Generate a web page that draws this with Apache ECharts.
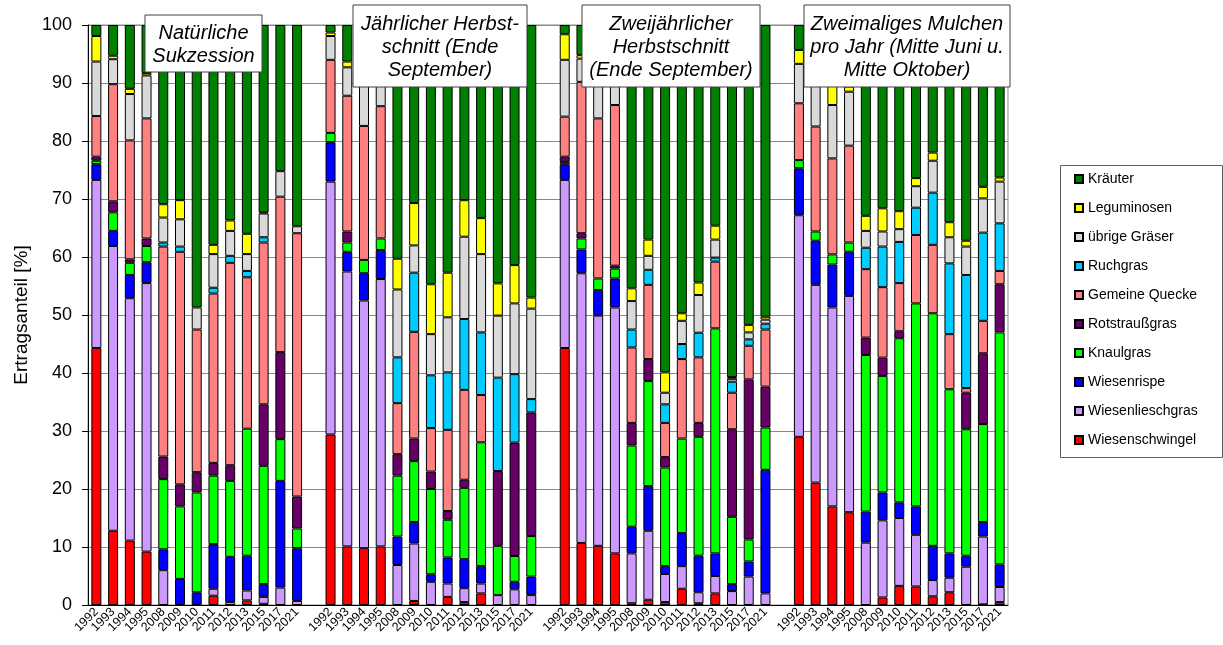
<html>
<head>
<meta charset="utf-8">
<script src="https://cdn.jsdelivr.net/npm/echarts@6/dist/echarts.min.js"></script>
<style>
    html, body { margin: 0; padding: 0; background: #fff; }
    #chart { width: 1223px; height: 645px; }
</style>
</head>
<body>
<div id="chart"></div>
<script>

// years shown in each of the 4 treatment groups
var years = ['1992', '1993', '1994', '1995', '2008', '2009', '2010', '2011', '2012', '2013', '2015', '2017', '2021'];

var groupTitles = [
    'Natürliche\nSukzession',
    'Jährlicher Herbst-\nschnitt (Ende\nSeptember)',
    'Zweijährlicher\nHerbstschnitt\n(Ende September)',
    'Zweimaliges Mulchen\npro Jahr (Mitte Juni u.\nMitte Oktober)'
];

// Ertragsanteil [%] per species, 4 groups x 13 years
var wiesenschwingel = [
    44.3, 12.8, 11.1, 9.2, 0, 0, 0, 1.6, 0, 0.8, 0.2, 0, 0,
    29.4, 10.1, 9.8, 10.1, 0, 0.7, 0, 1.4, 0.5, 2.0, 0, 0, 0,
    44.3, 10.7, 10.2, 8.9, 0.3, 0.9, 0.5, 2.8, 0.3, 2.0, 0, 0, 0,
    29.0, 21.1, 17.0, 16.0, 0, 1.3, 3.3, 3.2, 1.5, 2.2, 0, 0.1, 0.5
];
var wiesenlieschgras = [
    29.0, 49.1, 41.8, 46.3, 6.0, 0, 0, 1.2, 0.5, 1.7, 1.2, 3.0, 0.7,
    43.6, 47.4, 42.7, 46.1, 6.9, 9.9, 4.0, 2.3, 2.4, 1.7, 1.7, 2.7, 1.7,
    29.0, 46.5, 39.7, 42.4, 8.6, 11.9, 4.85, 3.9, 1.9, 3.0, 2.4, 4.9, 2.0,
    38.2, 34.1, 34.3, 37.3, 10.75, 13.3, 11.7, 8.9, 2.8, 2.5, 6.6, 11.7, 2.6
];
var wiesenrispe = [
    2.7, 2.6, 4.0, 3.6, 3.6, 4.5, 2.2, 7.7, 7.8, 6.0, 2.2, 18.4, 9.1,
    6.8, 3.4, 4.7, 5.0, 4.9, 3.7, 1.3, 4.5, 5.0, 3.0, 0, 1.3, 3.2,
    2.7, 4.1, 4.4, 5.0, 4.6, 7.7, 1.35, 5.7, 6.3, 3.9, 1.2, 2.6, 21.3,
    8.1, 7.6, 7.4, 7.6, 5.35, 4.8, 2.7, 4.9, 5.9, 4.2, 1.9, 2.5, 3.9
];
var knaulgras = [
    0.6, 3.2, 2.1, 2.8, 12.1, 12.5, 17.2, 11.8, 13.1, 21.9, 20.4, 7.2, 3.4,
    1.6, 1.6, 2.3, 2.0, 10.5, 10.5, 14.7, 6.5, 12.3, 21.35, 8.5, 4.45, 7.0,
    0.4, 1.9, 2.0, 1.7, 14.0, 18.1, 17.0, 16.3, 20.5, 38.8, 11.6, 3.8, 7.3,
    1.4, 1.6, 1.75, 1.6, 27.0, 20.1, 28.3, 35.0, 40.1, 28.3, 21.8, 16.9, 40.0
];
var rotstraussgras = [
    0.7, 1.9, 0.6, 1.3, 3.9, 3.8, 3.5, 2.2, 2.7, 0, 10.6, 15.0, 5.5,
    0, 1.9, 0, 0, 3.7, 3.9, 3.0, 1.5, 1.4, 0, 12.9, 19.55, 21.3,
    0.9, 0.9, 0, 0.5, 3.9, 3.8, 1.8, 0, 2.4, 0, 15.1, 27.6, 7.05,
    0, 0, 0, 0, 3.0, 3.15, 1.2, 0, 0, 0, 6.3, 12.2, 8.3
];
var gemeineQuecke = [
    7.0, 20.2, 20.5, 20.7, 36.2, 40.1, 24.6, 29.2, 34.9, 26.1, 27.9, 26.8, 45.4,
    12.6, 23.4, 23.1, 22.8, 8.8, 18.4, 7.5, 14.0, 15.5, 8.15, 0, 0, 0,
    6.9, 26.1, 27.6, 27.7, 13.0, 12.8, 5.9, 13.7, 11.3, 11.5, 6.3, 5.8, 9.85,
    9.8, 18.1, 16.55, 16.7, 11.8, 12.15, 8.3, 11.8, 11.8, 9.5, 0.8, 5.6, 2.3
];
var ruchgras = [
    0, 0, 0, 0, 0.7, 0.9, 0, 1.0, 1.2, 1.1, 0.9, 0, 0,
    0, 0, 0, 0, 7.9, 10.2, 9.1, 9.9, 12.2, 10.8, 16.1, 11.8, 2.3,
    0, 0, 0, 0, 3.1, 2.6, 3.2, 2.6, 4.25, 0.7, 1.9, 1.1, 1.0,
    0, 0, 0, 0, 3.7, 7.0, 7.1, 4.7, 9.0, 12.2, 19.5, 15.2, 8.2
];
var uebrigeGraeser = [
    9.4, 4.3, 8.0, 7.4, 4.3, 4.7, 3.8, 5.8, 4.3, 2.9, 4.1, 4.4, 1.2,
    4.1, 4.9, 10.4, 6.0, 11.7, 4.7, 7.1, 9.5, 14.2, 13.5, 10.7, 12.2, 15.6,
    9.8, 4.0, 6.1, 4.8, 4.9, 2.4, 2.0, 4.0, 6.5, 3.1, 0.5, 1.2, 0.7,
    6.8, 9.5, 9.2, 9.3, 2.9, 2.6, 2.2, 3.7, 5.5, 4.5, 4.9, 5.9, 7.2
];
var leguminosen = [
    4.4, 0.6, 0.9, 0.4, 2.3, 3.3, 0, 1.6, 1.8, 3.5, 0.2, 0, 0,
    0.6, 1.0, 1.0, 1.0, 5.3, 7.3, 8.6, 7.7, 6.3, 6.2, 5.55, 6.6, 1.9,
    4.4, 0.6, 0, 0, 2.2, 2.8, 3.5, 1.3, 2.15, 2.4, 0.3, 1.3, 0.5,
    2.4, 1.0, 3.3, 0.9, 2.6, 4.0, 3.1, 1.4, 1.4, 2.6, 1.0, 2.0, 0.7
];
var kraeuter = [
    1.9, 5.3, 11.0, 8.3, 30.9, 30.2, 48.7, 37.9, 33.7, 36.0, 32.3, 25.2, 34.7,
    1.3, 6.3, 6.0, 7.0, 40.3, 30.8, 44.7, 42.7, 30.2, 33.3, 44.55, 41.4, 47.0,
    1.6, 5.2, 10.0, 9.0, 45.4, 37.0, 59.9, 49.7, 44.4, 34.6, 60.7, 51.7, 50.3,
    4.3, 7.0, 10.5, 10.6, 32.9, 31.6, 32.1, 26.4, 22.0, 34.0, 37.2, 27.9, 26.3
];

var species = [
    { name: 'Wiesenschwingel', color: '#ff0000', data: wiesenschwingel },
    { name: 'Wiesenlieschgras', color: '#cc99ff', data: wiesenlieschgras },
    { name: 'Wiesenrispe', color: '#0000ff', data: wiesenrispe },
    { name: 'Knaulgras', color: '#00ff00', data: knaulgras },
    { name: 'Rotstraußgras', color: '#660066', data: rotstraussgras },
    { name: 'Gemeine Quecke', color: '#ff8080', data: gemeineQuecke },
    { name: 'Ruchgras', color: '#00ccff', data: ruchgras },
    { name: 'übrige Gräser', color: '#d9d9d9', data: uebrigeGraeser },
    { name: 'Leguminosen', color: '#ffff00', data: leguminosen },
    { name: 'Kräuter', color: '#008000', data: kraeuter }
];

// one empty category between the groups
var categories = [];
for (var g = 0; g < 4; g++) {
    categories = categories.concat(years);
    if (g < 3) categories.push('');
}

function withGaps(arr) {
    var out = [];
    for (var g = 0; g < 4; g++) {
        for (var i = 0; i < years.length; i++) {
            var v = arr[g * years.length + i];
            out.push(v > 0 ? v : '-');
        }
        if (g < 3) out.push('-');
    }
    return out;
}

var fontFamily = '"Liberation Sans", Arial, sans-serif';

var series = species.map(function (s) {
    return {
        name: s.name,
        type: 'bar',
        stack: 'total',
        barWidth: 10,
        itemStyle: { color: s.color, borderColor: '#000', borderWidth: 1 },
        emphasis: { disabled: true },
        data: withGaps(s.data)
    };
});

// title boxes above the groups
var boxes = [
    { x: 145, y: 15, w: 117, h: 57 },
    { x: 353, y: 5, w: 174, h: 82 },
    { x: 582, y: 5, w: 178, h: 82 },
    { x: 804, y: 5, w: 206, h: 82 }
];
var graphic = [];
boxes.forEach(function (b, i) {
    graphic.push({
        type: 'rect', z: 100,
        shape: { x: b.x, y: b.y, width: b.w, height: b.h },
        style: { fill: '#fff', stroke: '#404040', lineWidth: 1 }
    });
    graphic.push({
        type: 'text', z: 101,
        x: b.x + b.w / 2, y: b.y + b.h / 2 + 1,
        style: {
            text: groupTitles[i],
            font: 'italic 20px ' + fontFamily,
            fill: '#000',
            align: 'center',
            verticalAlign: 'middle',
            lineHeight: 23
        }
    });
});
graphic.push({
    type: 'rect', z: 0,
    shape: { x: 1060.5, y: 165.5, width: 162, height: 292 },
    style: { fill: '#fff', stroke: '#606060', lineWidth: 1 }
});

var chart = echarts.init(document.getElementById('chart'));
chart.setOption({
    animation: false,
    textStyle: { fontFamily: fontFamily },
    grid: {
        left: 88, right: 215, top: 25, bottom: 40,
        show: true, borderColor: '#8a8a8a', borderWidth: 1
    },
    legend: {
        orient: 'vertical',
        left: 1074, top: 172,
        padding: 0,
        itemWidth: 8, itemHeight: 8,
        itemGap: 15,
        icon: 'rect',
        textStyle: { fontSize: 14, color: '#000', lineHeight: 14 },
        data: species.map(function (s) { return s.name; }).reverse()
    },
    xAxis: {
        type: 'category',
        data: categories,
        axisLine: { lineStyle: { color: '#000' } },
        axisTick: { length: 4, lineStyle: { color: '#000' } },
        axisLabel: { interval: 0, rotate: 45, fontSize: 12.5, color: '#000', margin: 5 },
        splitLine: { show: false }
    },
    yAxis: {
        type: 'value',
        min: 0, max: 100, interval: 10,
        name: 'Ertragsanteil [%]',
        nameLocation: 'middle',
        nameGap: 56,
        nameTextStyle: { fontSize: 19, color: '#000' },
        axisLine: { show: true, lineStyle: { color: '#000' } },
        axisTick: { show: true, length: 6, lineStyle: { color: '#000' } },
        axisLabel: { fontSize: 18, color: '#000', margin: 16 },
        splitLine: { lineStyle: { color: '#8a8a8a' } }
    },
    graphic: graphic,
    series: series
});
</script>
</body>
</html>
